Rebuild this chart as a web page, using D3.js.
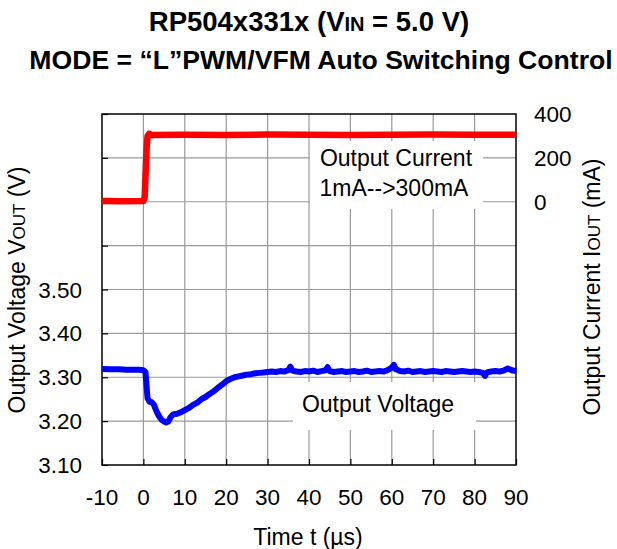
<!DOCTYPE html>
<html>
<head>
<meta charset="utf-8">
<script src="https://cdn.jsdelivr.net/npm/d3@7"></script>
<style>
body { margin: 0; background: #fff; }
svg text { font-family: "Liberation Sans", Arial, sans-serif; fill: #000; }
</style>
</head>
<body>
<svg id="chart" width="617" height="549"></svg>
<script>
// ---- data ----
const xTicks = [-10, 0, 10, 20, 30, 40, 50, 60, 70, 80, 90];
const vTicks = [3.1, 3.2, 3.3, 3.4, 3.5, 3.6, 3.7, 3.8, 3.9];
const vTickLabels = ["3.10", "3.20", "3.30", "3.40", "3.50", "", "", "", ""];
const iTicks = [0, 200, 400];
const iTickLabels = ["0", "200", "400"];

const currentTime = [-10, -5, 0, 0.3, 0.5, 0.8, 1.0, 1.4, 2, 10, 20, 30, 40, 50, 60, 70, 80, 90];
const currentValues = [3, 2, 3, 20, 120, 250, 300, 310, 304, 305, 304, 306, 305, 304, 305, 306, 305, 305];

const voltageTime = [-10, -8, -6, -4, -2, -1, 0, 0.5, 0.8, 1.0, 1.5, 2, 2.5, 3, 3.5, 4, 4.5, 5, 5.5, 6, 6.5, 7, 7.5, 8, 9, 10,
  11, 12, 13, 14, 15, 16, 17, 18, 19, 20, 21, 22, 23, 24, 25, 26, 27, 28, 29, 30,
  31, 32, 33, 34, 35, 35.5, 36, 37, 38, 39, 40, 41, 42, 43, 44, 44.5, 45, 46, 47, 48, 49, 50,
  51, 52, 53, 54, 55, 56, 57, 58, 59, 60, 60.5, 61, 62, 63, 64, 65, 66, 67, 68, 69, 70,
  71, 72, 73, 74, 75, 76, 77, 78, 79, 80, 81, 82, 82.5, 83, 84, 85, 86, 87, 88, 89, 90];
const voltageValues = [3.319, 3.318, 3.318, 3.317, 3.317, 3.317, 3.316, 3.312, 3.275, 3.252, 3.244, 3.243, 3.238, 3.226, 3.216, 3.208, 3.202, 3.199, 3.197, 3.199, 3.208, 3.214, 3.216, 3.216, 3.220, 3.225,
  3.230, 3.237, 3.242, 3.250, 3.255, 3.262, 3.268, 3.276, 3.283, 3.291, 3.296, 3.300, 3.302, 3.304, 3.306, 3.307, 3.309, 3.310, 3.311, 3.312,
  3.313, 3.312, 3.314, 3.313, 3.316, 3.324, 3.315, 3.313, 3.312, 3.314, 3.313, 3.315, 3.312, 3.314, 3.316, 3.323, 3.314, 3.312, 3.313, 3.314, 3.312, 3.313,
  3.314, 3.312, 3.313, 3.315, 3.312, 3.313, 3.314, 3.313, 3.316, 3.322, 3.328, 3.318, 3.314, 3.313, 3.315, 3.312, 3.313, 3.314, 3.312, 3.313, 3.314,
  3.313, 3.312, 3.314, 3.313, 3.312, 3.313, 3.314, 3.313, 3.312, 3.313, 3.312, 3.310, 3.303, 3.311, 3.313, 3.314, 3.313, 3.315, 3.320, 3.316, 3.314];

// ---- layout ----
const svg = d3.select("#chart");
const L = 102, R = 516, T = 114, B = 465;
const x = d3.scaleLinear().domain([-10, 90]).range([L, R]);
const yV = d3.scaleLinear().domain([3.1, 3.9]).range([B, T]);
const yI = d3.scaleLinear().domain([-1200, 400]).range([B, T]);

// grid
const grid = svg.append("g");
grid.selectAll("line.gx").data(xTicks.slice(1, -1)).join("line")
  .attr("x1", d => x(d)).attr("x2", d => x(d)).attr("y1", T).attr("y2", B)
  .attr("stroke", "#9a9a9a").attr("stroke-width", 1.2);
grid.selectAll("line.gy").data(vTicks.slice(1, -1)).join("line")
  .attr("x1", L).attr("x2", R).attr("y1", d => yV(d)).attr("y2", d => yV(d))
  .attr("stroke", "#9a9a9a").attr("stroke-width", 1.2);

// label boxes (white backgrounds over grid)
svg.append("rect").attr("x", 310).attr("y", 141).attr("width", 173).attr("height", 68).attr("fill", "#fff");
svg.append("rect").attr("x", 293).attr("y", 382).attr("width", 183).attr("height", 48).attr("fill", "#fff");

// inward ticks
const xAxis = d3.axisBottom(x).tickValues(xTicks).tickSize(-6).tickFormat("");
svg.append("g").attr("transform", `translate(0,${B})`).call(xAxis)
  .call(g => g.select(".domain").remove())
  .call(g => g.selectAll("line").attr("stroke", "#000").attr("stroke-width", 1.2));
const yAxisL = d3.axisLeft(yV).tickValues(vTicks).tickSize(-6).tickFormat("");
svg.append("g").attr("transform", `translate(${L},0)`).call(yAxisL)
  .call(g => g.select(".domain").remove())
  .call(g => g.selectAll("line").attr("stroke", "#000").attr("stroke-width", 1.2));

// frame
svg.append("rect").attr("x", L).attr("y", T).attr("width", R - L).attr("height", B - T)
  .attr("fill", "none").attr("stroke", "#000").attr("stroke-width", 1.5);

// lines
const lineI = d3.line().x((d, i) => x(currentTime[i])).y(d => yI(d));
svg.append("path").attr("d", lineI(currentValues)).attr("fill", "none")
  .attr("stroke", "#ff0000").attr("stroke-width", 6.5).attr("stroke-linejoin", "round");
const lineV = d3.line().x((d, i) => x(voltageTime[i])).y(d => yV(d));
svg.append("path").attr("d", lineV(voltageValues)).attr("fill", "none")
  .attr("stroke", "#0000ff").attr("stroke-width", 6).attr("stroke-linejoin", "round");

// tick labels
const fs = 22.5;
svg.selectAll("text.xt").data(xTicks).join("text")
  .attr("x", d => x(d)).attr("y", 505).attr("text-anchor", "middle")
  .attr("font-size", fs).text(d => d);
svg.selectAll("text.yl").data(vTicks).join("text")
  .attr("x", 82).attr("y", d => yV(d) + 8).attr("text-anchor", "end")
  .attr("font-size", fs).text((d, i) => vTickLabels[i]);
svg.selectAll("text.yr").data(iTicks).join("text")
  .attr("x", 534).attr("y", d => yI(d) + 8).attr("text-anchor", "start")
  .attr("font-size", fs).text((d, i) => iTickLabels[i]);

// axis titles
const afs = 23;
svg.append("text").attr("x", 308).attr("y", 545).attr("text-anchor", "middle")
  .attr("font-size", afs).text("Time t (µs)");
const lt = svg.append("text").attr("transform", "translate(25,290) rotate(-90)")
  .attr("text-anchor", "middle").attr("font-size", afs);
lt.append("tspan").text("Output Voltage V");
lt.append("tspan").attr("font-size", 17).text("OUT");
lt.append("tspan").text(" (V)");
const rt = svg.append("text").attr("transform", "translate(600,287) rotate(-90)")
  .attr("text-anchor", "middle").attr("font-size", afs);
rt.append("tspan").text("Output Current I");
rt.append("tspan").attr("font-size", 17).text("OUT");
rt.append("tspan").text(" (mA)");

// annotations
svg.append("text").attr("x", 396).attr("y", 166).attr("text-anchor", "middle").attr("font-size", afs).text("Output Current");
svg.append("text").attr("x", 394).attr("y", 196).attr("text-anchor", "middle").attr("font-size", afs).text("1mA-->300mA");
svg.append("text").attr("x", 378).attr("y", 412).attr("text-anchor", "middle").attr("font-size", afs).text("Output Voltage");

// titles
const t1 = svg.append("text").attr("x", 309).attr("y", 31).attr("text-anchor", "middle")
  .attr("font-size", 27.5).attr("font-weight", "bold");
t1.append("tspan").text("RP504x331x (V");
t1.append("tspan").attr("font-size", 20).text("IN");
t1.append("tspan").text(" = 5.0 V)");
svg.append("text").attr("x", 321).attr("y", 69).attr("text-anchor", "middle")
  .attr("font-size", 26.6).attr("font-weight", "bold")
  .text("MODE = “L”PWM/VFM Auto Switching Control");
</script>
</body>
</html>
